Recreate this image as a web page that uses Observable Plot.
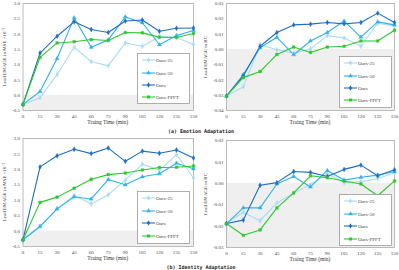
<!DOCTYPE html>
<html><head><meta charset="utf-8">
<script src="https://cdn.jsdelivr.net/npm/d3@7"></script>
<script src="https://cdn.jsdelivr.net/npm/@observablehq/plot@0.6"></script>
<style>
body{margin:0;background:#fff;}
#root{position:relative;width:399px;height:270px;overflow:hidden;font-family:"Liberation Serif",serif;color:#333;}
.panel{position:absolute;}
.ylab{position:absolute;font-size:5px;white-space:nowrap;transform:translate(-50%,-50%) rotate(-90deg);}
.xlab{position:absolute;font-size:5.5px;white-space:nowrap;transform:translateX(-50%);}
.cap{position:absolute;font:bold 5px "DejaVu Sans Mono",monospace;white-space:nowrap;transform:translateX(-50%);color:#222;}
.legend{position:absolute;}
</style></head>
<body><div id="root"></div>
<script>
const times = [0,15,30,45,60,75,90,105,120,135,150];
const seriesNames = ["Ours-25","Ours-50","Ours","Ours-FPFT"];
const seriesColors = ["#a9dcf6","#2fb2ee","#1f6ec4","#2ec82e"];
const seriesSymbols = ["diamond","triangle","diamond","square"];

// (a) Emotion adaptation, MSE
const emoMse25   = [-0.3,-0.08,0.68,1.57,1.1,0.96,1.71,1.6,1.92,1.89,1.66];
const emoMse50   = [-0.3,0.12,1.2,2.53,1.57,1.81,2.56,2.37,1.65,1.95,2.12];
const emoMseOurs = [-0.3,1.38,1.93,2.4,2.15,2.05,2.43,2.46,2.09,2.19,2.2];
const emoMseFpft = [-0.3,1.24,1.71,1.75,1.82,1.79,2.05,2.04,1.9,1.89,2.02];
// (a) Emotion adaptation, BC
const emoBc25   = [-0.0305,-0.0245,0.003,-0.0002,-0.0025,0.0004,0.009,0.0075,0.002,0.0171,0.0152];
const emoBc50   = [-0.0305,-0.0165,0.0011,0.0079,-0.0035,0.0055,0.011,0.0185,0.008,0.018,0.016];
const emoBcOurs = [-0.0305,-0.0174,0.002,0.011,0.016,0.0165,0.0176,0.0167,0.0176,0.0237,0.0176];
const emoBcFpft = [-0.0305,-0.0185,-0.0145,-0.0033,0.0015,-0.002,0.0015,0.002,0.0055,0.0055,0.0125];
// (b) Identity adaptation, MSE
const idMse25   = [-0.28,0.15,0.72,1.15,0.88,1.18,1.65,2.17,1.97,2.48,1.72];
const idMse50   = [-0.28,0.15,0.72,1.11,1.04,1.67,1.5,1.76,1.86,2.2,2.02];
const idMseOurs = [-0.28,2.08,2.44,2.65,2.51,2.69,2.26,2.59,2.52,2.63,2.37];
const idMseFpft = [-0.28,0.93,1.1,1.39,1.68,1.83,1.88,1.98,2.06,2.07,2.11];
// (b) Identity adaptation, BC
const idBc25   = [-0.0188,-0.0135,-0.0175,-0.0092,-0.0045,-0.0006,0.0045,0.0003,0.0008,0.0022,0.0048];
const idBc50   = [-0.0188,-0.0115,-0.0115,-0.0003,0.0032,-0.0017,0.006,0.0015,0.0028,0.0038,0.0055];
const idBcOurs = [-0.0188,-0.0172,-0.0009,0.0003,0.0055,0.0051,0.0032,0.0065,0.0085,0.0035,0.0063];
const idBcFpft = [-0.0188,-0.0243,-0.0218,-0.0115,-0.0045,0.0035,0.0026,0.0011,-0.0003,-0.0058,0.0011];

const mseTicks = [-0.5,0,0.5,1,1.5,2,2.5,3];
const bcTicksA = [-0.04,-0.03,-0.02,-0.01,0,0.01,0.02,0.03];
const bcTicksB = [-0.03,-0.02,-0.01,0,0.01,0.02];

const xLabel = "Traing Time (min)";
const mseLabel = "Lead EMAGE in MSE ×10⁻⁷";
const bcLabel = "Lead EMAGE in BC";
const captions = ["(a) Emotion Adaptation","(b) Identity Adaptation"];

const root = document.getElementById("root");

function rowsOf(arrs){
  const rows=[];
  arrs.forEach((a,i)=>a.forEach((v,j)=>rows.push({t:times[j],v,s:seriesNames[i]})));
  return rows;
}

function panel(cfg){
  const rows = rowsOf(cfg.series);
  const ticks = cfg.ticks;
  const d0 = ticks[0], d1 = ticks[ticks.length-1];
  const p = Plot.plot({
    width: cfg.w, height: cfg.h,
    marginLeft: cfg.ml, marginRight: cfg.mr, marginTop: cfg.mt, marginBottom: cfg.mb,
    style:{fontFamily:"Liberation Serif, serif", fontSize:"5px", color:"#444", background:"transparent", overflow:"visible"},
    x:{domain:[0,150]},
    y:{domain:[d0,d1]},
    color:{domain:seriesNames, range:seriesColors},
    symbol:{domain:seriesNames, range:seriesSymbols},
    marks:[
      Plot.rect([{a:0,b:150,c:d0,d:0}],{x1:"a",x2:"b",y1:"c",y2:"d",fill:"#efefef"}),
      Plot.frame({stroke:"#aaa", strokeWidth:0.8}),
      Plot.axisX({ticks:times, tickSize:0, tickPadding:4, label:null, tickFormat:d=>String(d)}),
      Plot.axisY({ticks:ticks, tickSize:0, tickPadding:3, label:null, tickFormat:cfg.fmt}),
      Plot.line(rows,{x:"t",y:"v",z:"s",stroke:"s",strokeWidth:1.1}),
      Plot.dot(rows,{x:"t",y:"v",fill:"s",stroke:"s",symbol:"s",r:1.5,strokeWidth:0.4})
    ]
  });
  p.classList.add("panel");
  p.style.left = cfg.x+"px"; p.style.top = cfg.y+"px";
  root.appendChild(p);

  const fx0 = cfg.x+cfg.ml, fx1 = cfg.x+cfg.w-cfg.mr;
  const fy0 = cfg.y+cfg.mt, fy1 = cfg.y+cfg.h-cfg.mb;
  const yl = document.createElement("div");
  yl.className="ylab"; yl.textContent=cfg.ylabel;
  yl.style.left=(cfg.x+cfg.ylx)+"px"; yl.style.top=((fy0+fy1)/2)+"px";
  root.appendChild(yl);
  const xl = document.createElement("div");
  xl.className="xlab"; xl.textContent=xLabel;
  xl.style.left=((fx0+fx1)/2)+"px"; xl.style.top=(fy1+8.5)+"px";
  root.appendChild(xl);

  // legend
  const L = cfg.legend;
  const ns="http://www.w3.org/2000/svg";
  const svg = document.createElementNS(ns,"svg");
  svg.setAttribute("width",L.w); svg.setAttribute("height",L.h);
  svg.setAttribute("class","legend");
  svg.style.left=L.x+"px"; svg.style.top=L.y+"px";
  let html = `<rect x="0.5" y="0.5" width="${L.w-1}" height="${L.h-1}" fill="#fff" stroke="#999" stroke-width="0.8"/>`;
  const shapes = {diamond:d3.symbolDiamond, triangle:d3.symbolTriangle, square:d3.symbolSquare};
  seriesNames.forEach((n,i)=>{
    const yy = L.rows[i];
    html += `<line x1="5" x2="18" y1="${yy}" y2="${yy}" stroke="${seriesColors[i]}" stroke-width="1.1"/>`;
    html += `<path transform="translate(11.5,${yy})" d="${d3.symbol(shapes[seriesSymbols[i]],9)()}" fill="${seriesColors[i]}"/>`;
    html += `<text x="19" y="${yy}" dy="0.35em" font-family="Liberation Serif" font-size="5" fill="#444">${n}</text>`;
  });
  svg.innerHTML = html;
  root.appendChild(svg);
}

const fmt1 = d=>d.toFixed(1);
const fmt2 = d=>d.toFixed(2);

panel({x:0,y:0,w:200,h:125,ml:22.5,mr:7,mt:3,mb:15, ticks:mseTicks, fmt:fmt1,
  series:[emoMse25,emoMse50,emoMseOurs,emoMseFpft], ylabel:mseLabel, ylx:4,
  legend:{x:137,y:53,w:53,h:51,rows:[7,20,32,44]}});
panel({x:200,y:0,w:199,h:125,ml:26,mr:5,mt:3,mb:15, ticks:bcTicksA, fmt:fmt2,
  series:[emoBc25,emoBc50,emoBcOurs,emoBcFpft], ylabel:bcLabel, ylx:4.5,
  legend:{x:339,y:56,w:53,h:52,rows:[7,20,32,44]}});
panel({x:0,y:135,w:200,h:126,ml:22.5,mr:7,mt:3,mb:15, ticks:mseTicks, fmt:fmt1,
  series:[idMse25,idMse50,idMseOurs,idMseFpft], ylabel:mseLabel, ylx:4,
  legend:{x:137,y:191,w:53,h:53,rows:[7,20,32,45]}});
panel({x:200,y:135,w:199,h:127,ml:26,mr:5,mt:5,mb:15, ticks:bcTicksB, fmt:fmt2,
  series:[idBc25,idBc50,idBcOurs,idBcFpft], ylabel:bcLabel, ylx:4.5,
  legend:{x:339,y:194,w:53,h:52,rows:[7,20,32,45]}});

[[captions[0],131],[captions[1],267]].forEach(([t,y])=>{
  const c=document.createElement("div");
  c.className="cap"; c.textContent=t; c.style.left="201px"; c.style.top=(y-3)+"px";
  root.appendChild(c);
});
</script></body></html>
